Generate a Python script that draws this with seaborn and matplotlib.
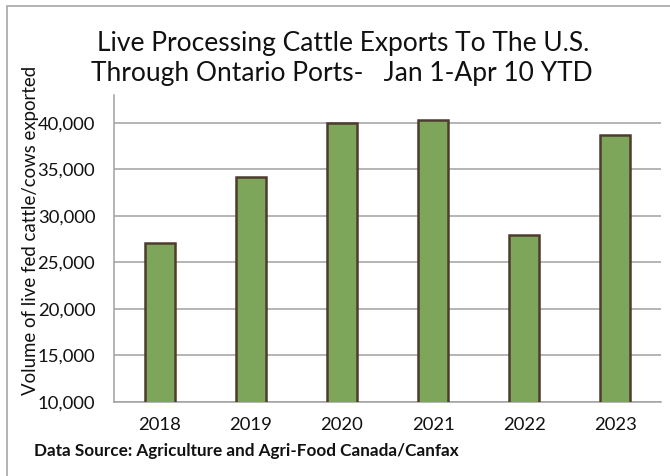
import matplotlib
matplotlib.use('Agg')
import matplotlib.pyplot as plt
import seaborn as sns
from matplotlib.patches import Rectangle
from matplotlib.ticker import FuncFormatter

# Chart data
years = ['2018', '2019', '2020', '2021', '2022', '2023']
exports = [27050, 34200, 39950, 40350, 27900, 38700]
y_ticks = [10000, 15000, 20000, 25000, 30000, 35000, 40000]

sns.set_style('white')
plt.rcParams['font.family'] = ['Lato', 'DejaVu Sans']

fig = plt.figure(figsize=(6.7, 4.76), dpi=100)
ax = fig.add_axes([114 / 670, 1 - 402 / 476, (661 - 114) / 670, (402 - 95) / 476])

sns.barplot(x=years, y=exports, color='#7ea65a', edgecolor='#4e3b2e',
            linewidth=1.8, width=0.33, saturation=1, ax=ax, zorder=3)

ax.set_ylim(10000, 43000)
ax.set_yticks(y_ticks)
ax.yaxis.set_major_formatter(FuncFormatter(lambda v, p: f'{int(v):,}'))
ax.grid(axis='y', color='#a0a0a0', linewidth=1.1, zorder=0)
ax.set_axisbelow(True)
ax.tick_params(axis='y', length=0, pad=13.5, labelsize=13.3, colors='#111111')
ax.tick_params(axis='x', length=0, pad=11, labelsize=13.3, colors='#111111')

for side in ['top', 'right']:
    ax.spines[side].set_visible(False)
for side in ['left', 'bottom']:
    ax.spines[side].set_color('#a0a0a0')
    ax.spines[side].set_linewidth(1.1)
ax.set_xlabel('')
ax.set_ylabel('')

# title, axis label and source note
fig.text(0.512, 1 - 44 / 476, 'Live Processing Cattle Exports To The U.S.',
         ha='center', va='center', fontsize=19, color='#111111')
fig.text(0.510, 1 - 73 / 476, 'Through Ontario Ports-   Jan 1-Apr 10 YTD',
         ha='center', va='center', fontsize=19, color='#111111')
fig.text(31 / 670, 1 - 230 / 476, 'Volume of live fed cattle/cows exported',
         rotation=90, ha='center', va='center', fontsize=13.4, color='#111111')
fig.text(34 / 670, 1 - 451 / 476, 'Data Source: Agriculture and Agri-Food Canada/Canfax',
         ha='left', va='center', fontsize=12.3, fontweight='bold', color='#111111')

# outer chart frame (only top and left edges fall inside the image)
fig.patches.append(Rectangle((7 / 670, -0.05), 1.1, 1.05 - 6 / 476,
                             transform=fig.transFigure, fill=False,
                             edgecolor='#a6a6a6', linewidth=1.2))

fig.savefig('out.png', dpi=100)
